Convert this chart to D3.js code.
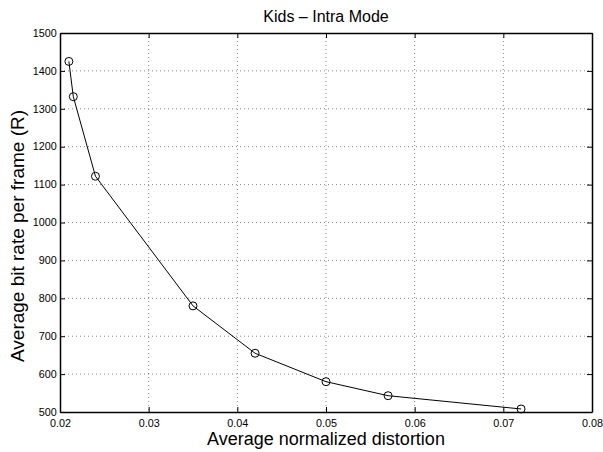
<!DOCTYPE html>
<html>
<head>
<meta charset="utf-8">
<script src="https://cdn.jsdelivr.net/npm/d3@7"></script>
<style>
  body { margin: 0; background: #fff; }
  text { font-family: "Liberation Sans", Arial, sans-serif; }
</style>
</head>
<body>
<div id="chart"></div>
<script>
// data
var distortion = [0.021, 0.0215, 0.024, 0.035, 0.042, 0.050, 0.057, 0.072]
var bitRate = [1425, 1332, 1122, 780, 655, 580, 543, 508]
var xTicks = [0.02, 0.03, 0.04, 0.05, 0.06, 0.07, 0.08]
var yTicks = [500, 600, 700, 800, 900, 1000, 1100, 1200, 1300, 1400, 1500]

var width = 603
var height = 452
var margin = { left: 60, top: 33, right: 11, bottom: 40 }
var innerWidth = width - margin.left - margin.right
var innerHeight = height - margin.top - margin.bottom

var svg = d3.select('#chart')
            .append('svg')
            .attr('width', width)
            .attr('height', height)

var g = svg.append('g')
           .attr('transform', 'translate(' + margin.left + ',' + margin.top + ')')

var xScale = d3.scaleLinear().domain([0.02, 0.08]).range([0, innerWidth])
var yScale = d3.scaleLinear().domain([500, 1500]).range([innerHeight, 0])

// dotted grid
g.selectAll('.vgrid')
 .data(xTicks.slice(1, -1))
 .enter()
 .append('line')
 .attr('x1', d => xScale(d)).attr('x2', d => xScale(d))
 .attr('y1', 0).attr('y2', innerHeight)
 .attr('stroke', '#555').attr('stroke-width', 0.7)
 .attr('stroke-dasharray', '1,3')

g.selectAll('.hgrid')
 .data(yTicks.slice(1, -1))
 .enter()
 .append('line')
 .attr('x1', 0).attr('x2', innerWidth)
 .attr('y1', d => yScale(d)).attr('y2', d => yScale(d))
 .attr('stroke', '#555').attr('stroke-width', 0.7)
 .attr('stroke-dasharray', '1,3')

// axes, ticks inside like matlab
var xAxis = d3.axisBottom(xScale).tickValues(xTicks).tickFormat(d3.format('.2f'))
              .tickSizeInner(-5).tickSizeOuter(0).tickPadding(8)
var yAxis = d3.axisLeft(yScale).tickValues(yTicks).tickFormat(d3.format('d'))
              .tickSizeInner(-5).tickSizeOuter(0).tickPadding(3)
var xAxisTop = d3.axisTop(xScale).tickValues(xTicks).tickSizeInner(-5).tickSizeOuter(0).tickFormat('')
var yAxisRight = d3.axisRight(yScale).tickValues(yTicks).tickSizeInner(-5).tickSizeOuter(0).tickFormat('')

var gx = g.append('g').attr('transform', 'translate(0,' + innerHeight + ')').call(xAxis)
var gy = g.append('g').call(yAxis)
g.append('g').call(xAxisTop)
g.append('g').attr('transform', 'translate(' + innerWidth + ',0)').call(yAxisRight)

g.selectAll('.domain').attr('stroke', '#000').attr('stroke-width', 1.5)
g.selectAll('.tick line').attr('stroke', '#000')
// reference font runs a bit wide
gx.selectAll('text').attr('font-size', 10).attr('fill', '#000').attr('transform', 'scale(1.08,1)')
gy.selectAll('text').attr('font-size', 10).attr('fill', '#000').attr('transform', 'scale(1.08,1)')

// series line + circle markers
var line = d3.line()
             .x((d, i) => xScale(distortion[i]))
             .y(d => yScale(d))

g.append('path')
 .datum(bitRate)
 .attr('d', line)
 .attr('fill', 'none')
 .attr('stroke', '#000')
 .attr('stroke-width', 1)

g.selectAll('.pt')
 .data(bitRate)
 .enter()
 .append('circle')
 .attr('cx', (d, i) => xScale(distortion[i]))
 .attr('cy', d => yScale(d))
 .attr('r', 4)
 .attr('fill', 'none')
 .attr('stroke', '#000')
 .attr('stroke-width', 1)

// labels
var cx = margin.left + innerWidth / 2
svg.append('text')
   .attr('x', cx)
   .attr('y', 22)
   .attr('text-anchor', 'middle')
   .attr('font-size', 16)
   .text('Kids \u2013 Intra Mode')

svg.append('text')
   .attr('x', cx)
   .attr('y', 445)
   .attr('text-anchor', 'middle')
   .attr('font-size', 18)
   .text('Average normalized distortion')

svg.append('text')
   .attr('transform', 'translate(24,236) rotate(-90)')
   .attr('text-anchor', 'middle')
   .attr('font-size', 19)
   .text('Average bit rate per frame (R)')
</script>
</body>
</html>
